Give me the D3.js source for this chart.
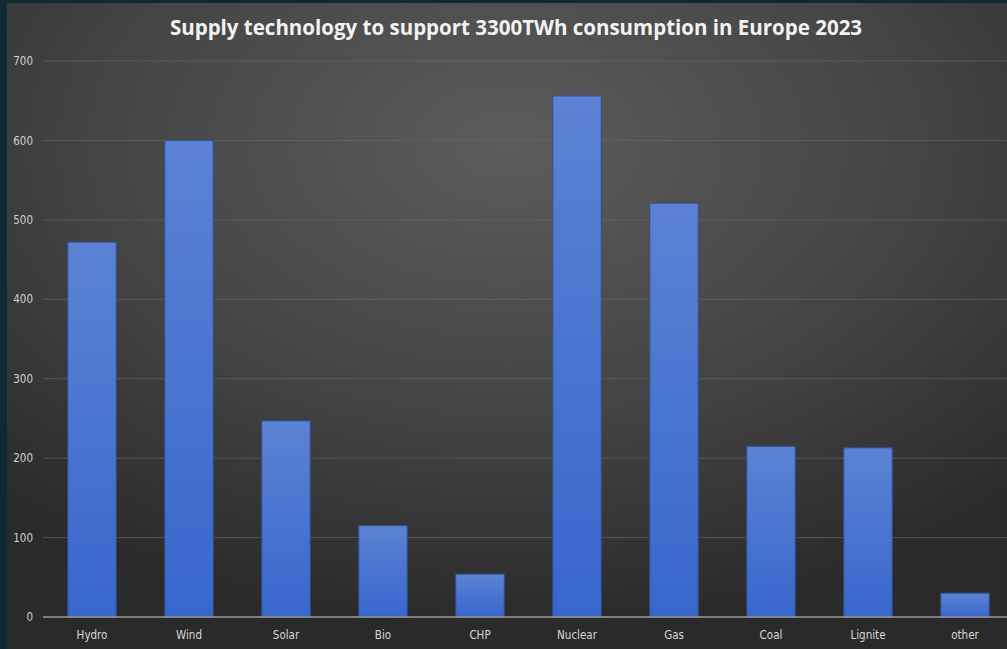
<!DOCTYPE html>
<html><head><meta charset="utf-8">
<script src="https://cdn.jsdelivr.net/npm/d3@7"></script>
<style>html,body{margin:0;padding:0;background:#0e2b33;overflow:hidden}</style>
</head><body>
<script>
const categories = ["Hydro","Wind","Solar","Bio","CHP","Nuclear","Gas","Coal","Lignite","other"];
const values = [472, 600, 247, 115, 54, 656, 521, 215, 213, 30];
const yTicks = [0,100,200,300,400,500,600,700];
const title = "Supply technology to support 3300TWh consumption in Europe 2023";

const W = 1007, H = 649;
const svg = d3.select("body").append("svg").attr("width", W).attr("height", H);
const defs = svg.append("defs");
const bg = defs.append("radialGradient").attr("id","bg").attr("cx","50%").attr("cy","22%").attr("r","75%")
  .attr("gradientUnits","objectBoundingBox");
bg.append("stop").attr("offset","0%").attr("stop-color","#5c5c5c");
bg.append("stop").attr("offset","55%").attr("stop-color","#444444");
bg.append("stop").attr("offset","100%").attr("stop-color","#2a2a2a");
const bar = defs.append("linearGradient").attr("id","bar").attr("x1",0).attr("y1",0).attr("x2",0).attr("y2",1);
bar.append("stop").attr("offset","0%").attr("stop-color","#5b82d3");
bar.append("stop").attr("offset","100%").attr("stop-color","#3867cc");

svg.append("rect").attr("x",0).attr("y",0).attr("width",W).attr("height",H).attr("fill","#0e2b33");
svg.append("rect").attr("x",7).attr("y",3).attr("width",W-7).attr("height",H-3).attr("fill","url(#bg)");

const x = d3.scaleBand().domain(categories).range([43.5, 1013.5]).paddingInner(0.5).paddingOuter(0.25);
const y = d3.scaleLinear().domain([0,700]).range([617, 61]);

// gridlines
svg.append("g").selectAll("line").data(yTicks.filter(d=>d>0)).join("line")
  .attr("x1",43).attr("x2",W).attr("y1",d=>y(d)).attr("y2",d=>y(d))
  .attr("stroke","#6a6a6a").attr("stroke-width",1).attr("opacity",0.6);

// y axis labels
const yAxis = d3.axisLeft(y).tickValues(yTicks).tickSize(0).tickPadding(0);
const gy = svg.append("g").attr("transform","translate(33,0)").call(yAxis);
gy.select(".domain").remove();
gy.selectAll("text").attr("fill","#d0d0d0").attr("font-family","'Liberation Sans Narrow','DejaVu Sans Condensed',Arial,sans-serif")
  .attr("font-size",11.5).attr("text-anchor","end");

// bars
svg.append("g").selectAll("rect").data(values).join("rect")
  .attr("x",(d,i)=>x(categories[i])).attr("width",x.bandwidth())
  .attr("y",d=>y(d)).attr("height",d=>y(0)-y(d))
  .attr("fill","url(#bar)").attr("stroke","#2f4f8f").attr("stroke-width",1);

// baseline
svg.append("line").attr("x1",43).attr("x2",W).attr("y1",y(0)).attr("y2",y(0))
  .attr("stroke","#9a9a9a").attr("stroke-width",1.5);

// x axis labels
const xAxis = d3.axisBottom(x).tickSize(0).tickPadding(0);
const gx = svg.append("g").attr("transform",`translate(0,${y(0)+14})`).call(xAxis);
gx.select(".domain").remove();
gx.selectAll("text").attr("fill","#d8d8d8").attr("font-family","'Liberation Sans Narrow','DejaVu Sans Condensed',Arial,sans-serif")
  .attr("font-size",11.5);

// title
svg.append("text").attr("x",516).attr("y",35).attr("text-anchor","middle")
  .attr("font-family","'Open Sans','DejaVu Sans',sans-serif").attr("font-weight","bold")
  .attr("font-size",20.5).attr("fill","#f2f2f2").text(title);
</script>
</body></html>
